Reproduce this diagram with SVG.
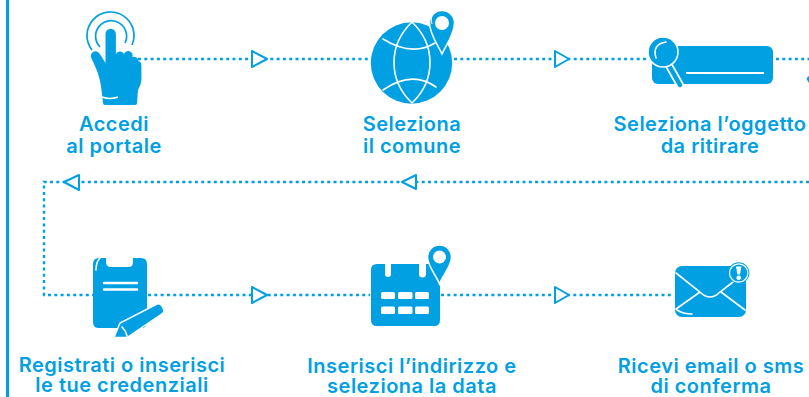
<svg xmlns="http://www.w3.org/2000/svg" width="809" height="397" viewBox="0 0 809 397">
<style>
.c{fill:none;stroke:#00a0e3;stroke-width:2.4;stroke-dasharray:3 3.3}
.a{fill:#fff;stroke:#00a0e3;stroke-width:2;stroke-linejoin:round}
.f{fill:#00a0e3}
.w{fill:none;stroke:#fff;stroke-width:1.6;stroke-linecap:round}
.o{fill:none;stroke:#00a0e3;stroke-width:1.7}
.t{font-family:Inter,"Liberation Sans",sans-serif;font-weight:600;font-size:20px;letter-spacing:.5px;fill:#00a0e3;text-anchor:middle}
</style>
<rect x="6" y="0" width="3" height="397" fill="#00a0e3"/>
<g id="connectors">
<path class="c" d="M138 59H372M454 59H650M776 59H809M809 182H44V295H93M148 295H370M441 295H673"/>
<path class="a" d="M252 51L267 59L252 67Z"/>
<path class="a" d="M555 51L569 59L555 67Z"/>
<path class="a" d="M79 175L64 182L79 190Z"/>
<path class="a" d="M416 175L402 182L416 189Z"/>
<path class="a" d="M252 287L267 295L252 303Z"/>
<path class="a" d="M555 287L569 295L555 303Z"/>
</g>
<g id="node-accedi">
<path class="o" d="M92 50A23.500 23.500 0 1 1 132 45"/>
<path class="o" d="M100 47A15.500 15.500 0 1 1 125 43"/>
<path class="f" d="M105.500 34a5.200 5.200 0 0 1 10.400 0V54a4.500 4.500 0 0 1 8 0a4.500 4.500 0 0 1 8.500 3a4.500 4.500 0 0 1 6 4c2.500 1 3 2 3 6V80Q141 85 138 90L137 103a2 2 0 0 1-2 2H105a2 2 0 0 1-2-2L101.500 90C100 76 96 68 91.500 58.500a4.500 4.500 0 0 1 8-5L105.500 63Z"/>
<path d="M102 97Q110 100 118 97" fill="none" stroke="#fff" stroke-width="1.400"/>
</g>
<text class="t" x="114" y="131">Accedi</text>
<text class="t" x="114" y="153">al portale</text>
<g id="node-comune">
<circle class="f" cx="411.500" cy="63" r="40.700"/>
<path class="w" d="M383 39Q412 57 435 43M383 90Q412 70 436 87M412 22C388 45 388 80 412 103M412 22C436 45 436 80 412 103"/>
<path class="f" stroke="#fff" stroke-width="1.500" d="M442 54C438 45 429.500 34 429.500 23A12.500 12.500 0 0 1 454.500 23C454.500 34 446 45 442 54Z"/>
<circle cx="442" cy="23" r="7" fill="#fff"/>
<path d="M434 13Q430 17 432 24" fill="none" stroke="#fff" stroke-width="1"/>
</g>
<text class="t" x="412" y="131">Seleziona</text>
<text class="t" x="412" y="153">il comune</text>
<g id="node-oggetto">
<rect class="f" x="652" y="46" width="121" height="38" rx="6"/>
<path d="M686 73H764" stroke="#fff" stroke-width="2"/>
<path d="M667 62L680 85" stroke="#fff" stroke-width="8" stroke-linecap="round"/>
<path d="M667 62L680 85" stroke="#00a0e3" stroke-width="4.500" stroke-linecap="round"/>
<circle class="f" cx="663" cy="52" r="15" stroke="#fff" stroke-width="1.500"/>
<path class="w" d="M656 58Q652 44 666 42"/>
</g>
<text class="t" x="710" y="131">Seleziona l’oggetto</text>
<text class="t" x="710" y="153">da ritirare</text>
<g id="node-partial">
<path class="f" d="M806.500 79Q807 77 809 76V83Z"/>
</g>
<g id="node-registrati">
<path class="f" d="M99 258H106V262Q106 267 111 267H129Q133 267 133 262V258H141Q147 258 147 264V322Q147 328 141 328H99Q93 328 93 322V264Q93 258 99 258Z"/>
<path class="w" stroke-width="1" d="M96 270Q96 262 100 258"/>
<path d="M104 283H137M104 289.500H137" stroke="#fff" stroke-width="2.500" stroke-linecap="round" fill="none"/>
<path class="f" stroke="#fff" stroke-width="1.500" d="M114 337.500L120 323L157 304Q160 303 162 306L164 310Q164 313 162 314L127 337.500Z"/>
<path class="w" stroke-width="1" d="M122 327Q126 331 127 336"/>
</g>
<text class="t" x="122" y="372">Registrati o inserisci</text>
<text class="t" x="122" y="392">le tue credenziali</text>
<g id="node-data">
<path class="f" d="M377 264H385V274a3 3 0 0 0 6 0V264H419V274a3.500 3.500 0 0 0 7 0V264H434Q440 264 440 270V320Q440 326 434 326H377Q371 326 371 320V270Q371 264 377 264Z"/>
<g fill="#fff"><rect x="381" y="292" width="14" height="7" rx="1.500"/><rect x="398" y="292" width="14.500" height="7" rx="1.500"/><rect x="415" y="292" width="14" height="7" rx="1.500"/><rect x="381" y="306.500" width="14" height="7.500" rx="1.500"/><rect x="398" y="306.500" width="14.500" height="7.500" rx="1.500"/><rect x="415" y="306.500" width="14" height="7.500" rx="1.500"/></g>
<path class="f" stroke="#fff" stroke-width="1.500" d="M439.500 284C436 275 427.500 266 427.500 257A12 12 0 0 1 451.500 257C451.500 266 443 275 439.500 284Z"/>
<circle cx="439.500" cy="257" r="6.500" fill="#fff"/>
</g>
<text class="t" x="412" y="373">Inserisci l’indirizzo e</text>
<text class="t" x="412" y="393">seleziona la data</text>
<g id="node-email">
<rect class="f" x="675" y="266" width="71" height="51" rx="7"/>
<path class="w" d="M676 273L700 292Q710 302 720 292L733 282M700 292L676 309M721 292L745 310M677 310Q683 314 692 314"/>
<circle class="f" cx="738.700" cy="273" r="10.700"/>
<circle cx="738.700" cy="273" r="9.200" fill="none" stroke="#fff" stroke-width="1.200"/>
<path d="M736 266.500h5.400l-1.400 8h-2.600zM738.700 275.500a2.300 2.300 0 1 0 .01 0z" fill="#fff"/>
</g>
<text class="t" x="711" y="373">Ricevi email o sms</text>
<text class="t" x="711" y="393">di conferma</text>
</svg>
